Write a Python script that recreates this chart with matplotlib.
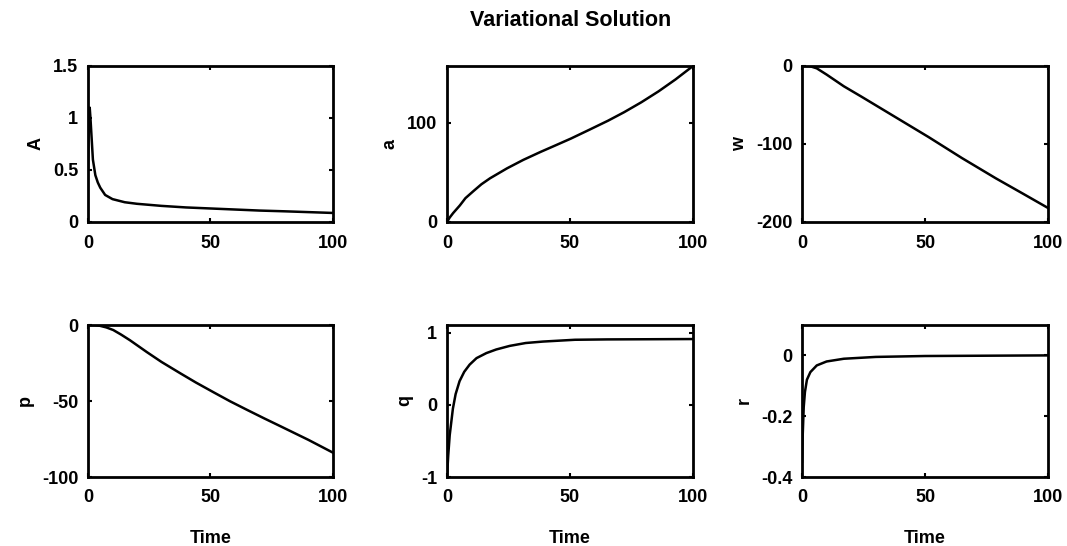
import matplotlib
matplotlib.use("Agg")
import matplotlib.pyplot as plt

plt.rcParams["font.family"] = ["Liberation Sans", "DejaVu Sans"]
plt.rcParams["font.weight"] = "bold"
plt.rcParams["axes.labelweight"] = "bold"
plt.rcParams["font.size"] = 13

t_A = [0, 0.3, 0.7, 1, 1.5, 2, 3, 4, 5, 7, 10, 15, 20, 30, 40, 50, 60, 70, 80, 90, 100]
A = [0.5, 0.9, 1.1, 1.0, 0.8, 0.6, 0.45, 0.38, 0.33, 0.26, 0.22, 0.19, 0.175, 0.155, 0.14,
     0.13, 0.12, 0.11, 0.103, 0.095, 0.087]

t_a = [0, 1.1, 2.5, 5.2, 7.5, 10.7, 14, 17.5, 24.4, 31, 38, 44, 50.4, 58, 65.5, 72, 79, 86,
       92.9, 100]
a = [0, 4.5, 9, 16.6, 24, 31, 38, 44, 54, 62.5, 70.5, 77, 84, 93, 102, 110.5, 120.5, 131.5,
     143.5, 157]

t_w = [0, 3, 6, 10, 17, 24, 37.7, 51.4, 65, 78.8, 90, 100]
w = [0, 0, -3, -11, -26, -39, -65, -91, -118, -144, -164, -182]

t_p = [0, 3, 4.8, 7.5, 10.3, 13.5, 17.1, 24, 30, 37.7, 44, 51.4, 58, 65, 72, 78.8, 90, 100]
p = [0, -0.1, -0.5, -1.6, -3.3, -6.3, -10, -17.8, -24.3, -31.8, -37.8, -44.4, -50.2, -55.9,
     -61.5, -66.8, -75.6, -84]

t_q = [0, 0.5, 1.1, 2.4, 3.5, 5.1, 7, 9.2, 12, 16, 20, 25.5, 32, 39, 52, 65, 80, 100]
q = [-1, -0.7, -0.42, -0.05, 0.15, 0.33, 0.46, 0.56, 0.65, 0.72, 0.77, 0.82, 0.86, 0.88,
     0.905, 0.91, 0.912, 0.915]

t_r = [0, 0.3, 0.7, 1.2, 2, 3.4, 6, 10, 17, 30, 50, 75, 100]
r = [-0.35, -0.26, -0.17, -0.12, -0.08, -0.055, -0.033, -0.02, -0.011, -0.005, -0.002, -0.001, 0]

panels = [
    (t_A, A, "A", (0, 1.5), [0, 0.5, 1, 1.5], ["0", "0.5", "1", "1.5"]),
    (t_a, a, "a", (0, 157), [0, 100], ["0", "100"]),
    (t_w, w, "w", (-200, 0), [-200, -100, 0], ["-200", "-100", "0"]),
    (t_p, p, "p", (-100, 0), [-100, -50, 0], ["-100", "-50", "0"]),
    (t_q, q, "q", (-1, 1.11), [-1, 0, 1], ["-1", "0", "1"]),
    (t_r, r, "r", (-0.4, 0.1), [-0.4, -0.2, 0], ["-0.4", "-0.2", "0"]),
]

W, H = 1067, 546
cols = [(88, 333), (447, 693), (802, 1048)]
rows = [(66, 222), (325, 477)]

fig = plt.figure(figsize=(W / 100, H / 100), dpi=100)

for i, (tt, vals, name, ylim, yt, ytl) in enumerate(panels):
    (x0, x1) = cols[i % 3]
    (y0, y1) = rows[i // 3]
    ax = fig.add_axes([x0 / W, 1 - y1 / H, (x1 - x0) / W, (y1 - y0) / H])
    ax.plot(tt, vals, color="black", linewidth=1.8)
    ax.set_xlim(0, 100)
    ax.set_ylim(*ylim)
    ax.set_xticks([0, 50, 100])
    ax.set_yticks(yt)
    ax.set_yticklabels(ytl)
    ax.set_ylabel(name, labelpad=6)
    if i >= 3:
        ax.set_xlabel("Time", labelpad=17)
    ax.tick_params(direction="in", top=True, right=True, length=3, width=1.5)
    ax.tick_params(axis="x", pad=9)
    ax.tick_params(axis="y", pad=7)
    for s in ax.spines.values():
        s.set_linewidth(2)

fig.text(0.535, 0.962, "Variational Solution", ha="center", va="center",
         fontsize=15.5, fontweight="bold")

fig.savefig("out.png", dpi=100)
